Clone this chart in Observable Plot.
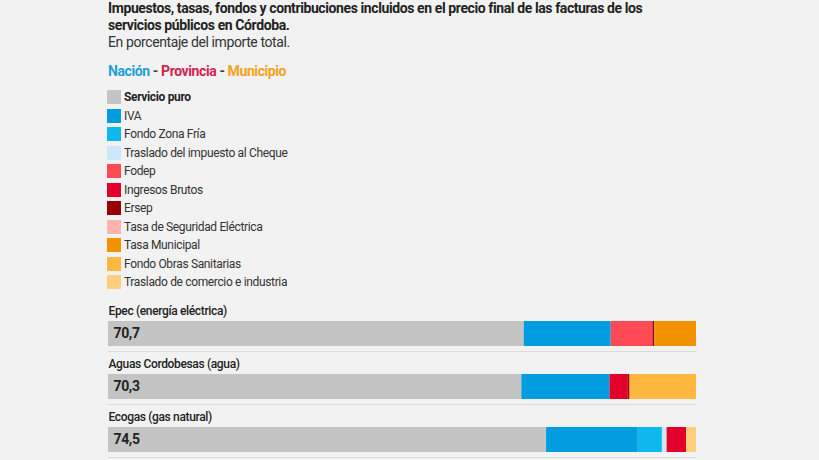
<!DOCTYPE html>
<html>
<head>
<meta charset="utf-8">
<script src="https://cdn.jsdelivr.net/npm/d3@7"></script>
<script src="https://cdn.jsdelivr.net/npm/@observablehq/plot@0.6"></script>
<style>
  html, body { margin: 0; padding: 0; background: #f2f2f2; width: 819px; height: 460px; overflow: hidden; }
  body { font-family: Roboto, "Noto Sans", sans-serif; color: #222; position: relative; }
  #title { position: absolute; left: 108px; top: 0; width: 545px; font-size: 14px; line-height: 17px; letter-spacing: -0.4px; }
  #title b { font-weight: 700; color: #222; }
  #title .sub { color: #333; }
  #levels { position: absolute; left: 108px; top: 63px; font-size: 14px; line-height: 17px; font-weight: 700; color: #444; letter-spacing: -0.4px; }
  #legend { position: absolute; left: 107px; top: 88px; font-size: 12px; letter-spacing: -0.35px; }
  #legend .row { height: 18.5px; display: flex; align-items: center; }
  #legend .sw { width: 14px; height: 14px; margin-right: 3px; flex: none; }
  #legend .row span { color: #333; line-height: 14px; }
  #chart { position: absolute; left: 0; top: 298px; }
  #chart svg text { letter-spacing: -0.35px; }
</style>
</head>
<body>
<div id="title"><b>Impuestos, tasas, fondos y contribuciones incluidos en el precio final de las facturas de los servicios públicos en Córdoba.</b><br><span class="sub">En porcentaje del importe total.</span></div>
<div id="levels"></div>
<div id="legend"></div>
<div id="chart"></div>
<script>
const levels = ["Nación", "Provincia", "Municipio"];
const levelColors = ["#1e9fd8", "#d3234f", "#f2a31c"];

const categories = [
  "Servicio puro",
  "IVA",
  "Fondo Zona Fría",
  "Traslado del impuesto al Cheque",
  "Fodep",
  "Ingresos Brutos",
  "Ersep",
  "Tasa de Seguridad Eléctrica",
  "Tasa Municipal",
  "Fondo Obras Sanitarias",
  "Traslado de comercio e industria"
];
const colors = [
  "#c4c4c4", "#029de0", "#0cb8ee", "#cde8fa", "#ff4a55", "#e3002b",
  "#990000", "#ffb3ae", "#f39200", "#fdb73e", "#fed07d"
];

const companies = ["Epec (energía eléctrica)", "Aguas Cordobesas (agua)", "Ecogas (gas natural)"];
// values per company, in category order
const epec   = [70.7, 14.8, 0,   0,   7.1, 0,   0.3, 0, 7.1, 0,    0];
const aguas  = [70.3, 15.0, 0,   0,   0,   3.1, 0.3, 0, 0,   11.3, 0];
const ecogas = [74.5, 15.6, 4.1, 0.8, 0,   3.3, 0,   0, 0,   0,    1.7];
const series = [epec, aguas, ecogas];

// header
document.getElementById("levels").innerHTML = levels
  .map((l, i) => `<span style="color:${levelColors[i]}">${l}</span>`)
  .join(" - ");

// legend
document.getElementById("legend").innerHTML = categories
  .map((c, i) => `<div class="row"><div class="sw" style="background:${colors[i]}"></div><span style="${i === 0 ? "font-weight:700;color:#222" : ""}">${c}</span></div>`)
  .join("");

const data = [];
companies.forEach((co, j) => {
  categories.forEach((cat, i) => {
    if (series[j][i] > 0) data.push({company: co, category: cat, value: series[j][i], order: i});
  });
});
const totals = companies.map((co, j) => ({company: co, base: series[j][0]}));

const fmt = v => d3.format(".1f")(v).replace(".", ",");

const plot = Plot.plot({
  width: 819,
  height: 162,
  marginLeft: 108,
  marginRight: 123,
  marginTop: 0,
  marginBottom: 3,
  style: {background: "transparent", fontFamily: "Roboto, sans-serif"},
  x: {domain: [0, 100], axis: null},
  y: {domain: companies, axis: null, padding: 0},
  color: {domain: categories, range: colors},
  marks: [
    Plot.ruleY(companies, {y: d => d, dy: 26.5, stroke: "#dcdcdc", strokeWidth: 1}),
    Plot.barX(data, Plot.stackX({
      x: "value", y: "company", fill: "category", order: "order",
      insetTop: 23, insetBottom: 5
    })),
    Plot.text(companies, {
      y: d => d, frameAnchor: "left", textAnchor: "start", text: d => d,
      dy: -14, fontSize: 12, fill: "#222", fontWeight: 500
    }),
    Plot.text(totals, {
      x: 0, y: "company", text: d => fmt(d.base), textAnchor: "start",
      dx: 5, dy: 9, fontSize: 14, fontWeight: 700, fill: "#222"
    })
  ]
});
document.getElementById("chart").appendChild(plot);
</script>
</body>
</html>
